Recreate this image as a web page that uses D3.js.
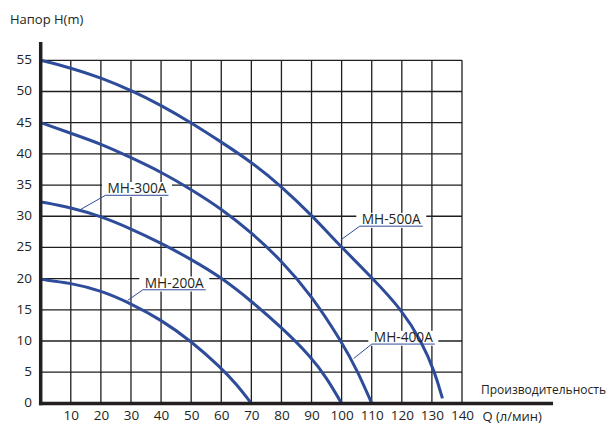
<!DOCTYPE html>
<html>
<head>
<meta charset="utf-8">
<script src="https://cdn.jsdelivr.net/npm/d3@7"></script>
<style>
  html, body { margin: 0; padding: 0; background: #fff; }
  svg { display: block; font-family: "Open Sans", "Noto Sans", sans-serif; }
</style>
</head>
<body>
<svg id="chart" width="611" height="424"></svg>
<script>
// ---- data ----
const xTicks = [10, 20, 30, 40, 50, 60, 70, 80, 90, 100, 110, 120, 130, 140];
const yTicks = [0, 5, 10, 15, 20, 25, 30, 35, 40, 45, 50, 55];

const mh500Q = [0, 10, 20, 30, 40, 50, 60, 70, 80, 90, 100, 110, 120, 126.5, 131, 133.5];
const mh500H = [55, 53.8, 52.2, 50.2, 47.8, 45, 41.9, 38.7, 34.8, 30.2, 25, 20.2, 15, 10, 5, 0.8];

const mh400Q = [0, 10, 20, 30, 40, 50, 60, 70, 80, 90, 100, 105.5, 110];
const mh400H = [45, 43.3, 41.6, 39.4, 37.1, 34.3, 31.2, 27.4, 22.9, 17.3, 9.9, 5, 0];

const mh300Q = [0, 10, 20, 30, 40, 50, 60, 70, 80, 90, 95, 100];
const mh300H = [32.3, 31.4, 30, 28, 25.7, 23.1, 20.2, 16.4, 12.2, 7.4, 4.1, 0];

const mh200Q = [0, 10, 20, 30, 40, 50, 60, 65, 70];
const mh200H = [19.9, 19.3, 18.1, 16, 13.4, 10, 5.7, 3.1, 0];

const seriesNames = ["MH-500A", "MH-400A", "MH-300A", "MH-200A"];

// label annotations: text centre (Q), baseline (H), leader target on curve (Q, H)
const labelQ      = [116.5, 120.5, 32, 44.4];
const labelH      = [28.7, 9.8, 33.65, 18.5];
const leaderQ     = [99.7, 104, 13.3, 28.9];
const leaderH     = [26.2, 7.2, 31.1, 16.5];

// ---- layout ----
const svg = d3.select("#chart");
const x = d3.scaleLinear().domain([0, 140]).range([40.7, 462]);
const y = d3.scaleLinear().domain([0, 55]).range([403.4, 60.3]);

const blue = "#2e4c9a";
const ink = "#231f20";

// grid
const grid = svg.append("g");
grid.selectAll("line.h").data(yTicks.filter(d => d > 0)).join("line")
  .attr("x1", x(0)).attr("x2", x(140))
  .attr("y1", d => y(d)).attr("y2", d => y(d))
  .attr("stroke", "#1e1e1e").attr("stroke-width", 1.3);
grid.selectAll("line.v").data(xTicks).join("line")
  .attr("x1", d => x(d)).attr("x2", d => x(d))
  .attr("y1", y(0)).attr("y2", y(55))
  .attr("stroke", "#1e1e1e").attr("stroke-width", 1.3);

// y tick labels
const yAxis = d3.axisLeft(y).tickValues(yTicks).tickSize(0).tickPadding(0);
const gy = svg.append("g").attr("transform", "translate(32,0)").call(yAxis);
gy.select(".domain").remove();
gy.selectAll("text").attr("font-size", 13.5).attr("fill", ink)
  .attr("font-family", "'Open Sans', sans-serif").attr("dy", "0.25em");

// x tick labels
const xAxis = d3.axisBottom(x).tickValues(xTicks).tickSize(0).tickPadding(0);
const gx = svg.append("g").attr("transform", "translate(0,409.5)").call(xAxis);
gx.select(".domain").remove();
gx.selectAll("text").attr("font-size", 13.5).attr("fill", ink)
  .attr("font-family", "'Open Sans', sans-serif").attr("dy", "0.75em");

// label backgrounds (knock out grid)
const labels = seriesNames.map((n, i) => ({ name: n, q: labelQ[i], h: labelH[i], lq: leaderQ[i], lh: leaderH[i] }));
const textW = 60;
const lg = svg.append("g");
lg.selectAll("rect").data(labels).join("rect")
  .attr("x", d => x(d.q) - textW / 2 - 5)
  .attr("y", d => y(d.h) - 11.5)
  .attr("width", textW + 10)
  .attr("height", 15)
  .attr("fill", "#fff");

// curves
const line = d3.line().x(d => x(d[0])).y(d => y(d[1])).curve(d3.curveBasis);
const curves = [
  d3.zip(mh500Q, mh500H),
  d3.zip(mh400Q, mh400H),
  d3.zip(mh300Q, mh300H),
  d3.zip(mh200Q, mh200H)
];
svg.append("g").selectAll("path").data(curves).join("path")
  .attr("d", line)
  .attr("fill", "none")
  .attr("stroke", blue)
  .attr("stroke-width", 3);

// label text, underline and leader
labels.forEach(d => {
  const cx = x(d.q), by = y(d.h);
  svg.append("text").attr("x", cx).attr("y", by)
    .attr("text-anchor", "middle").attr("font-size", 14).attr("fill", ink)
    .attr("textLength", textW - 1).attr("lengthAdjust", "spacingAndGlyphs")
    .text(d.name);
  const ux1 = cx - textW / 2 - 1.5, ux2 = cx + textW / 2 + 1.5, uy = by + 1.8;
  svg.append("line").attr("x1", ux1).attr("x2", ux2).attr("y1", uy).attr("y2", uy)
    .attr("stroke", blue).attr("stroke-width", 1);
  svg.append("line").attr("x1", ux1).attr("y1", uy).attr("x2", x(d.lq)).attr("y2", y(d.lh))
    .attr("stroke", blue).attr("stroke-width", 1);
});

// axes (thick)
svg.append("line").attr("x1", x(0)).attr("x2", x(0)).attr("y1", 42).attr("y2", y(0) + 1.8)
  .attr("stroke", ink).attr("stroke-width", 3.5);
svg.append("line").attr("x1", x(0) - 1.75).attr("x2", 553).attr("y1", y(0)).attr("y2", y(0))
  .attr("stroke", ink).attr("stroke-width", 3.5);

// axis titles
svg.append("text").attr("x", 10).attr("y", 24).attr("font-size", 13).attr("fill", ink).text("Напор H(m)");
svg.append("text").attr("x", 481).attr("y", 394).attr("font-size", 12.5).attr("fill", ink)
  .attr("textLength", 125).attr("lengthAdjust", "spacingAndGlyphs").text("Производительность");
svg.append("text").attr("x", 482.5).attr("y", 420.5).attr("font-size", 13).attr("fill", ink).text("Q (л/мин)");
</script>
</body>
</html>
